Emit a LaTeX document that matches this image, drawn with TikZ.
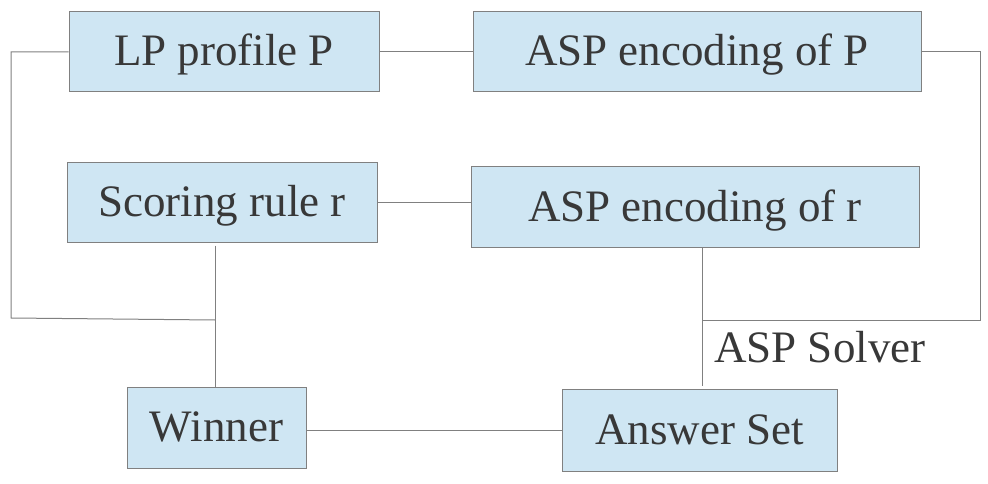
\documentclass[tikz,border=0pt]{standalone}
\usepackage{fontspec}
\setmainfont{Liberation Serif}
\definecolor{boxfill}{RGB}{207,230,243}
\definecolor{linegray}{RGB}{128,128,128}
\definecolor{txt}{RGB}{56,56,56}
\begin{document}
\begin{tikzpicture}[x=1pt,y=-1pt,
  blk/.style={draw=linegray,fill=boxfill,line width=1pt,inner sep=0pt,text=txt,
    text height=28pt,text depth=-2pt,font=\fontsize{45}{50}\selectfont},
  conn/.style={draw=linegray,line width=1pt}]
\useasboundingbox (0,0) rectangle (988,484);
\node[blk,minimum width=310,minimum height=80] (LP) at (224,52) {LP profile P};
\node[blk,minimum width=448,minimum height=80] (ASPP) at (697,52) {ASP encoding of P};
\node[blk,minimum width=310,minimum height=79] (Score) at (222,202.5) {Scoring rule r};
\node[blk,minimum width=448,minimum height=80] (ASPr) at (695,207) {ASP encoding of r};
\node[blk,minimum width=179,minimum height=81] (Winner) at (216.5,427.5) {Winner};
\node[blk,minimum width=275,minimum height=82] (Answer) at (699.5,430) {Answer Set};
\node[anchor=base west,inner sep=0pt,text=txt,font=\fontsize{45}{50}\selectfont] (solver) at (714,362) {ASP Solver};
\coordinate (jl) at (11,318);
\coordinate (jw) at (215,320);
\coordinate (jr) at (980,320);
\coordinate (js) at (702,320);
\draw[conn] (LP.west) -| (jl) -- (jw);
\draw[conn] ([yshift=-3pt]Score.south -| jw) -- (Winner.north -| jw);
\draw[conn] (LP.east) -- (ASPP.west);
\draw[conn] (ASPP.east) -| (jr) -- (js);
\draw[conn] (Score.east) -- (Score.east -| ASPr.west);
\draw[conn] (ASPr.south -| js) -- ([yshift=3pt]Answer.north -| js);
\draw[conn] (Winner.east |- Answer.west) -- (Answer.west);
\end{tikzpicture}
\end{document}
